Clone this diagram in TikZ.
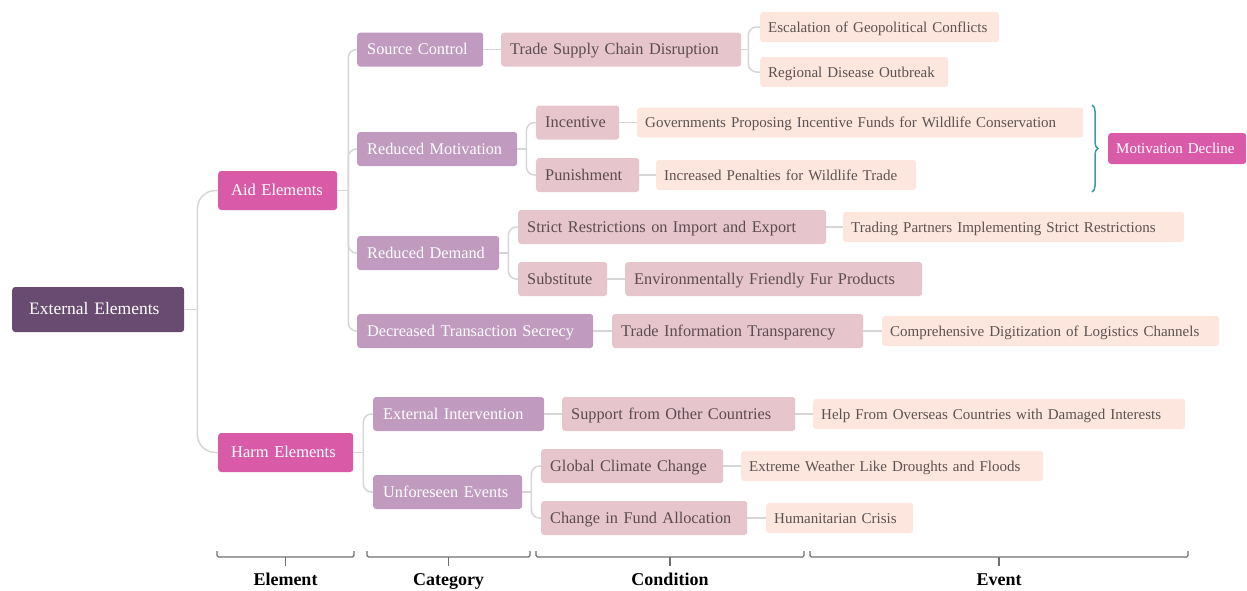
\documentclass[tikz,border=0pt]{standalone}
\usepackage{fontspec}
\setmainfont{Liberation Serif}
\usetikzlibrary{decorations.pathreplacing}
\definecolor{rootc}{HTML}{694A70}
\definecolor{elemc}{HTML}{D95BA8}
\definecolor{catc}{HTML}{C09ABF}
\definecolor{condc}{HTML}{E7C5CD}
\definecolor{evtc}{HTML}{FCE6DD}
\definecolor{condtext}{HTML}{5A4C50}
\definecolor{evttext}{HTML}{5C5252}
\definecolor{connc}{HTML}{D6D6D6}
\definecolor{bracec}{HTML}{3E9BA6}
\definecolor{bottomc}{HTML}{707070}
\tikzset{
  box/.style={rounded corners=3pt, anchor=west, align=left, inner ysep=0pt, text height=12pt, text depth=2pt},
  rootbox/.style={box, fill=rootc, text=white, font=\fontsize{17.5}{20}\selectfont, inner xsep=17pt, minimum height=45pt},
  elembox/.style={box, fill=elemc, text=white, font=\fontsize{16.5}{19}\selectfont, inner xsep=13pt, minimum height=39pt},
  mdbox/.style={box, fill=elemc, text=white, font=\fontsize{15}{18}\selectfont, inner xsep=8pt, minimum height=31pt},
  catbox/.style={box, fill=catc, text=white, font=\fontsize{16.3}{19}\selectfont, inner xsep=10pt, minimum height=34pt},
  condbox/.style={box, fill=condc, text=condtext, font=\fontsize{16.3}{19}\selectfont, inner xsep=9pt, minimum height=34pt},
  evtbox/.style={box, fill=evtc, text=evttext, font=\fontsize{15}{18}\selectfont, inner xsep=8pt, minimum height=30pt},
  conn/.style={draw=connc, line width=1.5pt, rounded corners=8pt},
  brc/.style={draw=bottomc, line width=1.2pt, rounded corners=1.5pt},
  lab/.style={font=\bfseries\fontsize{18}{20}\selectfont, text=black, inner sep=0pt, anchor=base}
}
\begin{document}
\begin{tikzpicture}[x=1pt,y=-1pt]
\useasboundingbox (0,0) rectangle (1247,590);
% root and elements
\node[rootbox, text width=138pt] (ext) at (12,309.5) {External Elements};
\node[elembox, text width=93pt] (aid) at (218,190.5) {Aid Elements};
\node[elembox, text width=109pt] (harm) at (218,452.5) {Harm Elements};
% categories
\node[catbox, text width=106pt] (sc) at (357,49.5) {Source Control};
\node[catbox, text width=140pt] (rm) at (357,149) {Reduced Motivation};
\node[catbox, text width=122pt] (rd) at (357,253) {Reduced Demand};
\node[catbox, text width=216pt] (dts) at (357,331) {Decreased Transaction Secrecy};
\node[catbox, text width=151pt] (ei) at (373,414) {External Intervention};
\node[catbox, text width=129pt] (ue) at (373,492) {Unforeseen Events};
% conditions
\node[condbox, text width=222pt] (tscd) at (501,49.5) {Trade Supply Chain Disruption};
\node[condbox, text width=65pt] (inc) at (536,122.5) {Incentive};
\node[condbox, text width=85pt] (pun) at (536,175) {Punishment};
\node[condbox, text width=290pt] (sr) at (518,227) {Strict Restrictions on Import and Export};
\node[condbox, text width=71pt] (sub) at (518,279) {Substitute};
\node[condbox, text width=279pt] (efp) at (625,279) {Environmentally Friendly Fur Products};
\node[condbox, text width=233pt] (tit) at (612,331) {Trade Information Transparency};
\node[condbox, text width=215pt] (sfoc) at (562,414) {Support from Other Countries};
\node[condbox, text width=164pt] (gcc) at (541,466) {Global Climate Change};
\node[condbox, text width=188pt] (cfa) at (541,518) {Change in Fund Allocation};
% events
\node[evtbox, text width=223pt] (egc) at (760,27) {Escalation of Geopolitical Conflicts};
\node[evtbox, text width=172pt] (rdo) at (760,72) {Regional Disease Outbreak};
\node[evtbox, text width=430pt] (gov) at (637,122.5) {Governments Proposing Incentive Funds for Wildlife Conservation};
\node[evtbox, text width=244pt] (ipw) at (656,175) {Increased Penalties for Wildlife Trade};
\node[evtbox, text width=325pt] (tpi) at (843,227) {Trading Partners Implementing Strict Restrictions};
\node[evtbox, text width=321pt] (cdl) at (882,331) {Comprehensive Digitization of Logistics Channels};
\node[evtbox, text width=356pt] (hfo) at (813,414) {Help From Overseas Countries with Damaged Interests};
\node[evtbox, text width=286pt] (ewl) at (741,466) {Extreme Weather Like Droughts and Floods};
\node[evtbox, text width=131pt] (hc) at (766,518) {Humanitarian Crisis};
\node[mdbox, text width=122pt] (md) at (1108,148.5) {Motivation Decline};
% connectors
\draw[conn] (ext.east) -- ++(13,0) coordinate (j0);
\draw[conn, rounded corners=18pt] (j0) |- (aid.west);
\draw[conn, rounded corners=18pt] (j0) |- (harm.west);
\draw[conn] (aid.east) -- ++(11,0) coordinate (j1);
\foreach \c in {sc,rm,rd,dts} \draw[conn] (j1) |- (\c.west);
\draw[conn] (harm.east) -- ++(10,0) coordinate (j2);
\foreach \c in {ei,ue} \draw[conn] (j2) |- (\c.west);
\draw[conn] (sc.east) -- (tscd.west);
\draw[conn] (tscd.east) -- ++(7,0) coordinate (j3);
\foreach \c in {egc,rdo} \draw[conn] (j3) |- (\c.west);
\draw[conn] (rm.east) -- ++(9,0) coordinate (j4);
\foreach \c in {inc,pun} \draw[conn] (j4) |- (\c.west);
\draw[conn] (inc.east) -- (gov.west);
\draw[conn] (pun.east) -- (ipw.west);
\draw[conn] (rd.east) -- ++(9,0) coordinate (j5);
\foreach \c in {sr,sub} \draw[conn] (j5) |- (\c.west);
\draw[conn] (sr.east) -- (tpi.west);
\draw[conn] (sub.east) -- (efp.west);
\draw[conn] (dts.east) -- (tit.west);
\draw[conn] (tit.east) -- (cdl.west);
\draw[conn] (ei.east) -- (sfoc.west);
\draw[conn] (sfoc.east) -- (hfo.west);
\draw[conn] (ue.east) -- ++(9,0) coordinate (j6);
\foreach \c in {gcc,cfa} \draw[conn] (j6) |- (\c.west);
\draw[conn] (gcc.east) -- (ewl.west);
\draw[conn] (cfa.east) -- (hc.west);
% teal brace
\draw[draw=bracec, line width=1.5pt, decorate, decoration={brace, amplitude=6pt}] (1092,105) -- (1092,192);
% bottom braces
\draw[brc] (217,551) -- (217,557) -- (354,557) -- (354,551);
\draw[brc] (285.5,557) -- (285.5,566);
\draw[brc] (367,551) -- (367,557) -- (530,557) -- (530,551);
\draw[brc] (448.5,557) -- (448.5,566);
\draw[brc] (536,551) -- (536,557) -- (804,557) -- (804,551);
\draw[brc] (670,557) -- (670,566);
\draw[brc] (810,551) -- (810,557) -- (1188,557) -- (1188,551);
\draw[brc] (999,557) -- (999,566);
\node[lab] (lel) at (285.5,585) {Element};
\node[lab] (lca) at (448.5,585) {Category};
\node[lab] (lco) at (670,585) {Condition};
\node[lab] (lev) at (999,585) {Event};
\end{tikzpicture}
\end{document}
